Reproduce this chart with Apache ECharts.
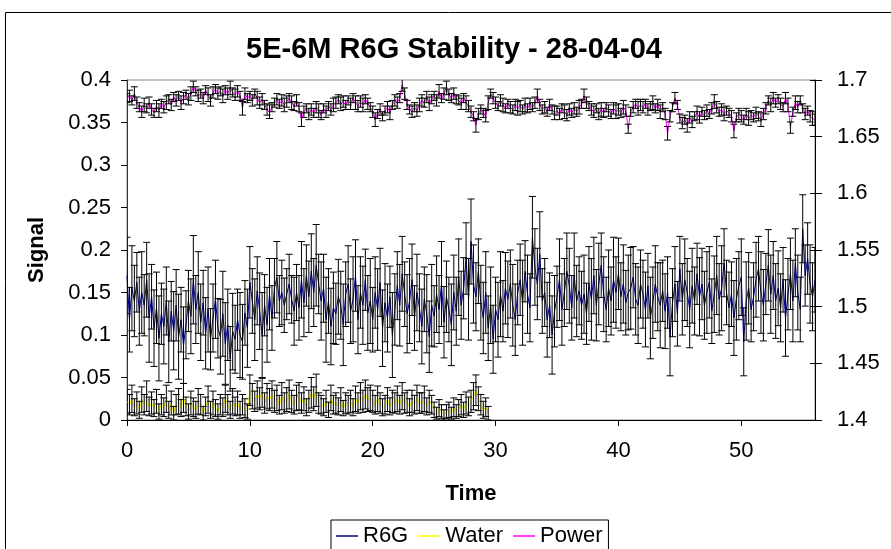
<!DOCTYPE html>
<html><head><meta charset="utf-8">
<script src="https://cdn.jsdelivr.net/npm/echarts@6/dist/echarts.min.js"></script>
<style>html,body{margin:0;padding:0;background:#fff}#c{width:891px;height:549px}</style>
</head><body><div id="c"></div>
<script>
// Sampling step of the time axis (5 readings per time unit)
const STEP = 0.2;
const xTicks = [0, 10, 20, 30, 40, 50];

// R6G signal (thousandths), left axis
const r6g = [
170,118,155,140,162, 128,150,135,165,120, 145,108,132,96,125, 110,140,92,128,105, 135,98,118,88,112,
140,122,165,130,150, 115,138,102,130,95, 120,142,108,98,125, 90,112,72,104,95, 118,100,92,126,108,
162,140,118,152,128, 100,135,112,148,120, 155,168,140,150,135, 148,160,142,128,150, 132,165,138,170,145,
175,150,182,160,140, 155,118,140,110,132, 125,145,135,112,148, 160,128,142,170,118, 150,135,165,126,140,
118,150,130,162,108, 138,120,145,100,130, 158,135,172,148,125, 140,165,120,150,132, 110,142,125,98,135,
122,148,130,160,115, 145,130,112,150,128, 168,135,155,190,142, 210,160,145,175,138, 120,150,108,135,95,
130,118,148,128,155, 142,160,135,118,150, 165,138,175,148,132, 215,180,160,195,140, 150,118,135,100,128,
145,165,130,150,175, 158,132,170,140,152, 135,148,125,160,142, 170,135,160,182,148, 130,155,140,165,150,
172,145,160,138,150, 155,168,142,135,160, 148,130,158,120,138, 160,145,135,152,128, 150,98,138,160,125,
178,142,165,150,130, 158,140,172,145,160, 135,150,162,128,148, 170,142,155,185,150, 132,148,120,142,158,
168,92,140,155,130, 145,165,178,150,135, 160,182,148,170,140, 155,132,165,120,148, 172,140,185,150,130,
225,170,190,160,145, 165];
const r6gErr = [
45,38,50,42,35, 40,48,36,44,52, 38,45,42,50,36, 44,40,48,35,46, 42,50,38,45,40,
36,44,52,40,48, 45,38,42,50,36, 40,46,35,44,50, 48,42,38,45,40, 36,50,44,38,46,
42,38,48,40,45, 50,36,44,42,38, 35,42,30,38,32, 30,35,28,40,33, 38,45,40,36,42,
44,40,48,35,46, 40,50,38,45,42, 36,44,40,48,38, 45,38,50,42,40, 42,46,36,44,50,
38,42,48,40,45, 46,40,36,50,42, 40,48,44,38,46, 50,42,38,45,40, 44,38,46,42,48,
36,45,40,50,42, 42,38,48,44,40, 45,40,36,42,48, 50,46,40,38,44, 42,48,38,45,40,
38,44,50,36,42, 45,40,48,42,38, 42,50,36,46,40, 48,45,42,50,38, 40,44,38,46,42,
36,48,42,40,45, 44,38,50,42,40, 40,46,36,44,48, 45,42,48,38,44, 38,45,40,50,42,
42,40,46,38,44, 48,36,42,45,40, 40,44,38,48,42, 45,40,50,36,44, 42,46,40,44,38,
38,42,48,40,45, 44,40,36,46,42, 40,48,42,38,45, 46,42,50,40,38, 42,38,44,48,40,
45,40,46,42,38, 40,44,38,48,42, 36,42,46,40,44, 44,40,38,45,42, 42,48,40,44,38,
40,36,42,46,40, 38];

// Water signal (thousandths), left axis
const water = [
22,18,25,15,20, 12,24,18,28,16, 20,14,22,10,18, 15,25,12,20,8, 18,22,14,26,16,
10,20,15,12,22, 18,8,16,24,12, 20,14,10,18,15, 25,18,12,22,16, 20,12,18,14,10,
35,28,22,30,25, 32,20,28,24,30, 22,26,18,28,20, 24,30,22,18,26, 28,20,25,15,22,
32,25,35,20,18, 15,22,12,26,18, 20,16,24,14,20, 18,22,15,25,20, 28,22,30,24,26,
22,18,25,20,15, 18,24,16,22,20, 25,18,28,20,22, 15,22,18,26,20, 20,25,16,22,18,
12,8,14,10,6, 10,12,8,15,10, 14,18,12,20,16, 22,28,35,25,18, 12,15,8];
const waterErr = [
14,12,16,10,13, 10,15,12,18,11, 13,10,14,9,12, 11,16,10,14,8, 12,15,10,17,11,
9,14,11,10,15, 12,8,11,16,10, 14,10,9,12,11, 16,12,10,15,11, 14,10,12,11,9,
18,15,12,16,13, 17,12,15,13,16, 13,15,11,16,12, 14,17,13,11,15, 16,12,14,10,13,
18,14,19,12,11, 10,13,9,15,11, 12,10,14,9,12, 11,13,10,15,12, 16,13,17,14,15,
13,11,15,12,10, 11,14,10,13,12, 15,11,16,12,13, 10,13,11,15,12, 12,15,10,13,11,
9,7,10,8,6, 8,9,7,11,8, 10,12,9,13,11, 13,16,18,14,12, 10,11,8];

// Power (thousandths), right axis
const power = [
1684,1686,1682,1688,1680, 1676,1672,1678,1675,1680, 1674,1671,1677,1673,1679, 1676,1680,1683,1678,1685, 1682,1686,1680,1684,1687,
1683,1688,1694,1690,1686, 1688,1684,1691,1687,1682, 1689,1692,1688,1690,1686, 1691,1688,1693,1689,1687, 1690,1686,1675,1688,1684,
1686,1682,1688,1684,1680, 1683,1678,1674,1672,1676, 1680,1683,1679,1682,1678, 1681,1684,1680,1677,1682, 1676,1665,1672,1675,1670,
1674,1671,1676,1673,1669, 1675,1672,1677,1674,1678, 1680,1683,1679,1681,1678, 1682,1679,1684,1680,1677, 1681,1678,1683,1679,1676,
1672,1665,1670,1674,1668, 1673,1676,1671,1678,1682, 1680,1684,1696,1688,1678, 1674,1672,1676,1673,1678, 1682,1680,1685,1679,1683,
1686,1682,1690,1684,1688, 1693,1687,1684,1688,1683, 1682,1679,1684,1680,1677, 1672,1668,1660,1670,1674, 1671,1668,1680,1688,1684,
1680,1677,1682,1678,1675, 1679,1676,1674,1678,1675, 1677,1674,1678,1675,1679, 1676,1680,1686,1678,1674, 1676,1672,1678,1674,1671,
1673,1670,1675,1672,1669, 1674,1671,1675,1672,1676, 1679,1686,1680,1677,1674, 1672,1675,1670,1674,1671, 1676,1673,1670,1675,1672,
1674,1671,1676,1673,1657, 1672,1676,1679,1675,1678, 1676,1679,1674,1677,1680, 1675,1678,1672,1676,1670, 1653,1668,1676,1684,1678,
1666,1662,1665,1660,1667, 1663,1668,1671,1667,1672, 1669,1673,1670,1675,1681, 1676,1672,1674,1670,1673, 1671,1668,1655,1667,1670,
1668,1665,1670,1666,1669, 1667,1671,1668,1665,1670, 1675,1682,1678,1684,1680, 1683,1679,1676,1684,1678, 1658,1672,1680,1676,1682,
1675,1670,1673,1668,1666, 1665];
const powerErr = [
4,5,4,6,5, 4,5,6,4,5, 5,4,5,6,4, 5,6,4,5,4, 5,4,6,5,4,
5,6,5,4,5, 4,5,4,6,5, 5,4,5,4,6, 4,5,6,4,5, 5,4,6,5,4,
4,5,4,6,5, 5,4,5,6,4, 4,5,4,5,6, 5,4,6,4,5, 4,6,5,4,5,
5,4,5,6,4, 4,5,4,5,6, 5,4,6,5,4, 4,5,4,6,5, 5,6,4,5,4,
5,6,4,5,4, 4,5,6,4,5, 5,4,6,5,4, 4,5,4,5,6, 5,4,5,6,4,
4,5,6,4,5, 6,5,4,5,4, 4,5,4,6,5, 5,4,6,5,4, 4,5,6,4,5,
5,4,5,6,4, 4,5,4,5,6, 5,4,6,4,5, 4,5,6,5,4, 5,4,5,4,6,
4,5,4,6,5, 5,4,5,4,6, 4,6,5,4,5, 5,4,5,6,4, 4,5,4,5,6,
5,4,6,5,4, 4,5,4,6,5, 5,4,5,4,6, 4,5,6,4,5, 6,5,4,5,4,
4,5,4,6,5, 5,4,6,5,4, 4,5,4,5,6, 5,4,5,6,4, 4,5,6,4,5,
5,4,5,6,4, 4,5,4,6,5, 5,4,6,5,4, 4,5,4,5,6, 5,4,6,5,4,
4,5,4,5,6, 5];

const FONT = '"Liberation Sans", Arial, Helvetica, sans-serif';
const k = v => v / 1000;
const t = i => +(i * STEP).toFixed(1);

const lineData = (vals) => vals.map((v, i) => [t(i), k(v)]);
const errData = (vals, errs) => vals.map((v, i) => [t(i), k(v - errs[i]), k(v + errs[i])]);

function errItem(params, api) {
  const x = api.value(0), lo = api.value(1), hi = api.value(2);
  const p1 = api.coord([x, hi]), p2 = api.coord([x, lo]);
  const w = 3.5;
  const style = { stroke: '#000', lineWidth: 1 };
  return { type: 'group', children: [
    { type: 'line', shape: { x1: p1[0], y1: p1[1], x2: p2[0], y2: p2[1] }, style },
    { type: 'line', shape: { x1: p1[0] - w, y1: p1[1], x2: p1[0] + w, y2: p1[1] }, style },
    { type: 'line', shape: { x1: p2[0] - w, y1: p2[1], x2: p2[0] + w, y2: p2[1] }, style }
  ]};
}

const chart = echarts.init(document.getElementById('c'), null, { renderer: 'canvas' });
chart.setOption({
  animation: false,
  backgroundColor: '#fff',
  textStyle: { fontFamily: FONT },
  graphic: [
    { type: 'rect', shape: { x: 5.5, y: 12.5, width: 900, height: 560 }, style: { fill: 'none', stroke: '#000', lineWidth: 1 }, z: -1 },
    { type: 'text', x: 454, y: 50, style: { text: '5E-6M R6G Stability - 28-04-04', font: 'bold 29px ' + FONT, fill: '#000', textAlign: 'center', textVerticalAlign: 'middle' } }
  ],
  grid: { left: 127, right: 76, top: 80, bottom: 129, show: true, borderColor: '#8c8c8c', borderWidth: 1, backgroundColor: 'transparent' },
  legend: {
    left: 331, top: 520, data: ['R6G', 'Water', 'Power'],
    icon: 'rect', itemWidth: 22, itemHeight: 1.5, itemGap: 10,
    borderColor: '#000', borderWidth: 1, padding: [5, 6, 8, 5],
    textStyle: { fontSize: 22, color: '#000', fontFamily: FONT }
  },
  xAxis: {
    type: 'value', min: 0, max: 56, interval: 10,
    name: 'Time', nameLocation: 'middle', nameGap: 63,
    nameTextStyle: { fontSize: 22, fontWeight: 'bold', color: '#000' },
    axisLine: { lineStyle: { color: '#000' } },
    axisTick: { show: true, length: 6, lineStyle: { color: '#000' } },
    axisLabel: { fontSize: 22, color: '#000', margin: 20, showMaxLabel: false },
    splitLine: { show: false }
  },
  yAxis: [
    {
      type: 'value', min: 0, max: 0.4, interval: 0.05, position: 'left',
      name: 'Signal', nameLocation: 'middle', nameGap: 79, nameRotate: 90,
      nameTextStyle: { fontSize: 22, fontWeight: 'bold', color: '#000' },
      axisLine: { show: true, lineStyle: { color: '#333' } },
      axisTick: { show: true, length: 6, lineStyle: { color: '#000' } },
      axisLabel: { fontSize: 22, color: '#000', margin: 16 },
      splitLine: { show: false }
    },
    {
      type: 'value', min: 1.4, max: 1.7, interval: 0.05, position: 'right',
      axisLine: { show: true, lineStyle: { color: '#000' } },
      axisTick: { show: true, length: 7, lineStyle: { color: '#000' } },
      axisLabel: { fontSize: 22, color: '#000', margin: 22 },
      splitLine: { show: false }
    },
    {
      type: 'value', min: 1.4, max: 1.7, interval: 0.05, position: 'right',
      axisLine: { show: false },
      axisTick: { show: true, inside: true, length: 5, lineStyle: { color: '#000' } },
      axisLabel: { show: false },
      splitLine: { show: false }
    }
  ],
  series: [
    { name: 'R6G', type: 'line', data: lineData(r6g), showSymbol: false, symbol: 'none', lineStyle: { color: '#000080', width: 1 }, itemStyle: { color: '#000080' }, z: 2 },
    { name: 'Water', type: 'line', data: lineData(water), showSymbol: false, symbol: 'none', lineStyle: { color: '#ffff00', width: 1 }, itemStyle: { color: '#ffff00' }, z: 2 },
    { name: 'Power', type: 'line', yAxisIndex: 1, data: lineData(power), showSymbol: false, symbol: 'none', lineStyle: { color: '#ff00ff', width: 1 }, itemStyle: { color: '#ff00ff' }, z: 2 },
    { name: 'R6G err', type: 'custom', renderItem: errItem, data: errData(r6g, r6gErr), encode: { x: 0, y: [1, 2] }, clip: true, z: 3, silent: true },
    { name: 'Water err', type: 'custom', renderItem: errItem, data: errData(water, waterErr), encode: { x: 0, y: [1, 2] }, clip: true, z: 3, silent: true },
    { name: 'Power err', type: 'custom', yAxisIndex: 1, renderItem: errItem, data: errData(power, powerErr), encode: { x: 0, y: [1, 2] }, clip: true, z: 3, silent: true }
  ]
});
</script></body></html>
